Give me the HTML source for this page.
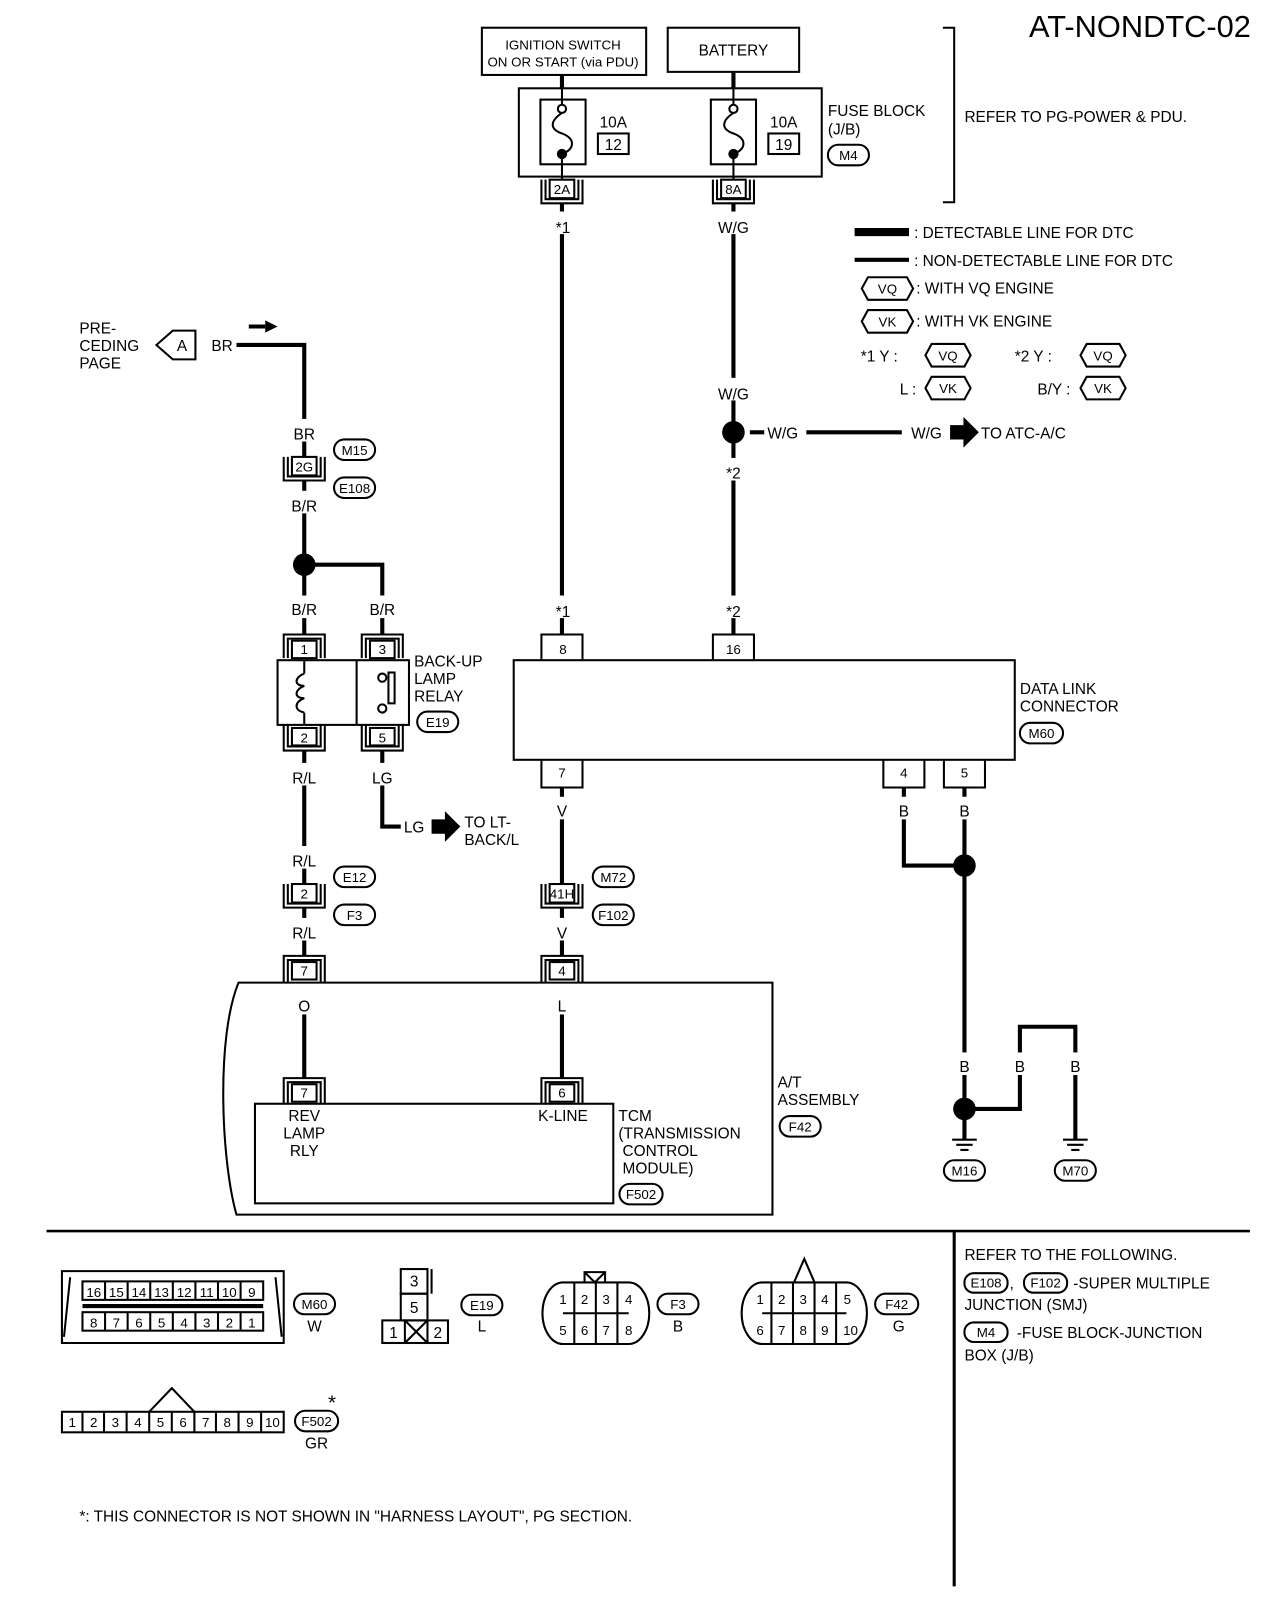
<!DOCTYPE html>
<html><head><meta charset="utf-8"><style>
html,body{margin:0;padding:0;background:#fff}
svg{display:block}
text{font-family:"Liberation Sans",sans-serif;font-size:15px;fill:#000}
.c{text-anchor:middle}
.s{font-size:13px}
</style></head><body>
<svg width="1280" height="1612" viewBox="0 0 1246 1570" xmlns="http://www.w3.org/2000/svg">
<g fill="none" stroke="#000" stroke-width="2">
<rect x="469" y="27" width="160" height="46"/>
<rect x="650" y="27" width="128" height="43"/>
<rect x="505" y="86" width="295" height="86"/>
<rect x="526" y="97" width="44" height="63"/>
<rect x="692" y="97" width="44" height="63"/>
<rect x="582" y="130" width="30" height="20"/>
<rect x="748" y="130" width="30" height="20"/>
<path d="M547 110 C535 118,535 126,547 130 C560 135,560 145,547 150"/>
<path d="M714 110 C702 118,702 126,714 130 C727 135,727 145,714 150"/>
<path d="M547 150V175M714 150V175M547 86V102M714 86V102"/>
<circle cx="547" cy="106" r="4"/><circle cx="714" cy="106" r="4"/>
<path d="M918 27H929V197H918"/>
<rect x="535" y="175" width="24" height="18"/><path d="M527 175V198H567V175M531 175V194H563V175"/>
<rect x="702" y="175" width="24" height="18"/><path d="M694 175V198H734V175M698 175V194H730V175"/>
<rect x="806" y="141" width="40" height="20" rx="10"/>
<path d="M845 270H883L889 281L883 292H845L839 281Z"/>
<path d="M845 302H883L889 313L883 324H845L839 313Z"/>
<path d="M907 335H939L945 346L939 357H907L901 346Z"/>
<path d="M907 367H939L945 378L939 389H907L901 378Z"/>
<path d="M1058 335H1090L1096 346L1090 357H1058L1052 346Z"/>
<path d="M1058 367H1090L1096 378L1090 389H1058L1052 378Z"/>
<path d="M190 322V350H168L152 336L168 322Z"/>
<rect x="325" y="428" width="40" height="20" rx="10"/>
<rect x="325" y="465" width="40" height="20" rx="10"/>
<rect x="406" y="693" width="40" height="20" rx="10"/>
<rect x="325" y="844" width="40" height="20" rx="10"/>
<rect x="325" y="881" width="40" height="20" rx="10"/>
<rect x="577" y="844" width="40" height="20" rx="10"/>
<rect x="577" y="881" width="40" height="20" rx="10"/>
<rect x="993" y="704" width="42" height="20" rx="10"/>
<rect x="759" y="1087" width="40" height="20" rx="10"/>
<rect x="603" y="1153" width="42" height="20" rx="10"/>
<rect x="919" y="1130" width="40" height="20" rx="10"/>
<rect x="1027" y="1130" width="40" height="20" rx="10"/>
<rect x="284" y="445" width="24" height="18"/><path d="M276 445V468H316V445M280 445V464H312V445"/>
<rect x="284" y="624" width="24" height="17"/><path d="M276 641V618H316V641M280 641V622H312V641"/>
<rect x="360" y="624" width="24" height="17"/><path d="M352 641V618H392V641M356 641V622H388V641"/>
<rect x="270" y="643" width="128" height="63"/>
<path d="M347 643V706"/>
<path d="M296 656C286 660,286 668,296 668C286 672,286 680,296 680C286 684,286 692,296 694"/>
<path d="M296 643V656M296 694V706"/>
<circle cx="372" cy="660" r="4"/><circle cx="372" cy="690" r="4"/>
<rect x="378" y="655" width="6" height="30"/>
<rect x="284" y="709" width="24" height="17"/><path d="M276 706V731H316V706M280 706V727H312V706"/>
<rect x="360" y="709" width="24" height="17"/><path d="M352 706V731H392V706M356 706V727H388V706"/>
<rect x="284" y="861" width="24" height="18"/><path d="M276 861V884H316V861M280 861V880H312V861"/>
<rect x="535" y="861" width="24" height="18"/><path d="M527 861V884H567V861M531 861V880H563V861"/>
<rect x="284" y="937" width="24" height="17"/><path d="M276 957V931H316V957M280 957V935H312V957"/>
<rect x="535" y="937" width="24" height="17"/><path d="M527 957V931H567V957M531 957V935H563V957"/>
<path d="M232 957H752V1183H230C215 1130,210 1010,232 957Z"/>
<rect x="284" y="1056" width="24" height="17"/><path d="M276 1075V1050H316V1075M280 1075V1054H312V1075"/>
<rect x="535" y="1056" width="24" height="17"/><path d="M527 1075V1050H567V1075M531 1075V1054H563V1075"/>
<rect x="248" y="1075" width="349" height="97"/>
<rect x="500" y="643" width="488" height="97"/>
<path d="M527 643V618H567V643M694 643V618H734V643"/>
<path d="M527 740V767H567V740M860 740V767H900V740M919 740V767H959V740"/>
<path d="M927 1110H951M931 1115H947M935 1120H943M1035 1110H1059M1039 1115H1055M1043 1120H1051"/>
<path d="M60 1238H276L276 1308H60Z"/>
<path d="M68 1244L62 1302M268 1244L274 1302"/>
<rect x="80" y="1248" width="176" height="18"/><rect x="80" y="1278" width="176" height="18"/>
<path d="M80 1271H256M80 1273H256"/>
<path d="M102 1248V1266M124 1248V1266M146 1248V1266M168 1248V1266M190 1248V1266M212 1248V1266M234 1248V1266M102 1278V1296M124 1278V1296M146 1278V1296M168 1278V1296M190 1278V1296M212 1278V1296M234 1278V1296"/>
<rect x="286" y="1260" width="40" height="20" rx="10"/>
<rect x="390" y="1236" width="26" height="24"/><path d="M420 1236V1260"/>
<rect x="390" y="1260" width="26" height="26"/>
<rect x="372" y="1286" width="64" height="22"/><path d="M394 1286V1308M416 1286V1308M394 1286L416 1308M416 1286L394 1308"/>
<rect x="449" y="1261" width="40" height="20" rx="10"/>
<path d="M548 1249H612A20 30 0 0 1 612 1309H548A20 30 0 0 1 548 1249Z"/>
<path d="M548 1279H612M559 1249V1309M580 1249V1309M601 1249V1309M569 1249V1239H589V1249M569 1239L579 1249L589 1239"/>
<rect x="640" y="1260" width="40" height="20" rx="10"/>
<path d="M742 1249H824A20 30 0 0 1 824 1309H742A20 30 0 0 1 742 1249Z"/>
<path d="M742 1279H824M751 1249V1309M772 1249V1309M793 1249V1309M814 1249V1309M773 1249L783 1226L793 1249"/>
<rect x="852" y="1260" width="42" height="20" rx="10"/>
<rect x="60" y="1375" width="216" height="20"/>
<path d="M80 1375V1395M101 1375V1395M123 1375V1395M145 1375V1395M167 1375V1395M189 1375V1395M210 1375V1395M232 1375V1395M254 1375V1395M145 1375L167 1352L189 1375"/>
<rect x="287" y="1374" width="42" height="20" rx="10"/>
<rect x="939" y="1240" width="42" height="19" rx="9"/>
<rect x="997" y="1240" width="42" height="19" rx="9"/>
<rect x="939" y="1288" width="42" height="19" rx="9"/>
</g>
<g fill="none" stroke="#000" stroke-width="4">
<path d="M547 73V86M714 70V86"/>
<path d="M547 198V618M714 198V618"/>
<path d="M230 336H296V445M296 468V618M296 550H372V618"/>
<path d="M296 731V861M296 884V931M296 975V1050"/>
<path d="M372 731V805H392"/>
<path d="M547 767V861M547 884V931M547 975V1050"/>
<path d="M730 421H760M785 421H878"/>
<path d="M880 767V843H939M939 767V1110M939 1080H993V1000H1047V1110"/>
<path d="M832 226H885" stroke-width="8"/>
<path d="M832 253H885"/>
<path d="M45 1199H1217" stroke-width="2.5"/>
<path d="M929 1199V1545" stroke-width="3"/>
<path d="M242 318H258"/>
</g>
<!-- label gaps on wires -->
<g fill="#fff">
<rect x="535" y="206" width="24" height="22"/><rect x="699" y="206" width="30" height="22"/>
<rect x="699" y="368" width="30" height="22"/><rect x="702" y="446" width="24" height="22"/>
<rect x="744" y="408" width="34" height="22"/><rect x="884" y="408" width="36" height="22"/>
<rect x="283" y="408" width="26" height="22"/><rect x="281" y="478" width="30" height="22"/>
<rect x="281" y="580" width="30" height="22"/><rect x="357" y="580" width="30" height="22"/>
<rect x="535" y="580" width="24" height="22"/><rect x="702" y="580" width="24" height="22"/>
<rect x="281" y="743" width="30" height="22"/><rect x="360" y="743" width="24" height="22"/>
<rect x="390" y="792" width="26" height="22"/>
<rect x="539" y="776" width="16" height="22"/><rect x="872" y="776" width="16" height="22"/><rect x="931" y="776" width="16" height="22"/>
<rect x="281" y="824" width="30" height="22"/><rect x="281" y="894" width="30" height="22"/><rect x="539" y="894" width="16" height="22"/>
<rect x="287" y="966" width="18" height="22"/><rect x="539" y="966" width="16" height="22"/>
<rect x="931" y="1025" width="16" height="22"/><rect x="985" y="1025" width="16" height="22"/><rect x="1039" y="1025" width="16" height="22"/>
<rect x="202" y="326" width="28" height="20"/>
</g>
<g fill="#000">
<circle cx="547" cy="150" r="5"/><circle cx="714" cy="150" r="5"/>
<circle cx="714" cy="421" r="11"/>
<circle cx="296" cy="550" r="11"/>
<circle cx="939" cy="843" r="11"/>
<circle cx="939" cy="1080" r="11"/>
<path d="M258 312L270 318L258 324Z"/>
<path d="M925 414H938V406L953 421L938 436V428H925Z"/>
<path d="M420 798H433V790L448 805L433 820V812H420Z"/>
</g>
<g>
<text x="1218" y="36" text-anchor="end" style="font-size:30px">AT-NONDTC-02</text>
<text x="548" y="48" class="c s">IGNITION SWITCH</text>
<text x="548" y="65" class="c s">ON OR START (via PDU)</text>
<text x="714" y="54" class="c">BATTERY</text>
<text x="597" y="124" class="c">10A</text><text x="597" y="146" class="c">12</text>
<text x="763" y="124" class="c">10A</text><text x="763" y="146" class="c">19</text>
<text x="547" y="189" class="c s">2A</text><text x="714" y="189" class="c s">8A</text>
<text x="806" y="113">FUSE BLOCK</text><text x="806" y="131">(J/B)</text>
<text x="826" y="156" class="c s">M4</text>
<text x="939" y="119">REFER TO PG-POWER &amp; PDU.</text>
<text x="548" y="227" class="c">*1</text><text x="714" y="227" class="c">W/G</text>
<text x="890" y="232">: DETECTABLE LINE FOR DTC</text>
<text x="890" y="259">: NON-DETECTABLE LINE FOR DTC</text>
<text x="864" y="286" class="c s">VQ</text><text x="892" y="286">: WITH VQ ENGINE</text>
<text x="864" y="318" class="c s">VK</text><text x="892" y="318">: WITH VK ENGINE</text>
<text x="838" y="352">*1  Y :</text><text x="923" y="351" class="c s">VQ</text>
<text x="876" y="384">L :</text><text x="923" y="383" class="c s">VK</text>
<text x="988" y="352">*2  Y :</text><text x="1074" y="351" class="c s">VQ</text>
<text x="1010" y="384">B/Y :</text><text x="1074" y="383" class="c s">VK</text>
<text x="714" y="389" class="c">W/G</text>
<text x="762" y="427" class="c">W/G</text><text x="902" y="427" class="c">W/G</text>
<text x="955" y="427">TO ATC-A/C</text>
<text x="714" y="466" class="c">*2</text>
<text x="77" y="325">PRE-</text><text x="77" y="342">CEDING</text><text x="77" y="359">PAGE</text>
<text x="177" y="342" class="c">A</text>
<text x="216" y="342" class="c">BR</text>
<text x="296" y="428" class="c">BR</text>
<text x="345" y="443" class="c s">M15</text>
<text x="296" y="459" class="c s">2G</text>
<text x="345" y="480" class="c s">E108</text>
<text x="296" y="498" class="c">B/R</text>
<text x="296" y="599" class="c">B/R</text><text x="372" y="599" class="c">B/R</text>
<text x="548" y="601" class="c">*1</text><text x="714" y="601" class="c">*2</text>
<text x="296" y="637" class="c s">1</text><text x="372" y="637" class="c s">3</text>
<text x="548" y="637" class="c s">8</text><text x="714" y="637" class="c s">16</text>
<text x="296" y="723" class="c s">2</text><text x="372" y="723" class="c s">5</text>
<text x="403" y="649">BACK-UP</text><text x="403" y="666">LAMP</text><text x="403" y="683">RELAY</text>
<text x="426" y="708" class="c s">E19</text>
<text x="993" y="676">DATA LINK</text><text x="993" y="693">CONNECTOR</text>
<text x="1014" y="719" class="c s">M60</text>
<text x="547" y="757" class="c s">7</text><text x="880" y="757" class="c s">4</text><text x="939" y="757" class="c s">5</text>
<text x="296" y="763" class="c">R/L</text><text x="372" y="763" class="c">LG</text>
<text x="547" y="795" class="c">V</text><text x="880" y="795" class="c">B</text><text x="939" y="795" class="c">B</text>
<text x="403" y="811" class="c">LG</text>
<text x="452" y="806">TO LT-</text><text x="452" y="823">BACK/L</text>
<text x="296" y="844" class="c">R/L</text>
<text x="345" y="859" class="c s">E12</text><text x="345" y="896" class="c s">F3</text>
<text x="296" y="875" class="c s">2</text>
<text x="547" y="875" class="c s">41H</text>
<text x="597" y="859" class="c s">M72</text><text x="597" y="896" class="c s">F102</text>
<text x="296" y="914" class="c">R/L</text><text x="547" y="914" class="c">V</text>
<text x="296" y="950" class="c s">7</text><text x="547" y="950" class="c s">4</text>
<text x="296" y="985" class="c">O</text><text x="547" y="985" class="c">L</text>
<text x="296" y="1069" class="c s">7</text><text x="547" y="1069" class="c s">6</text>
<text x="296" y="1092" class="c">REV</text><text x="296" y="1109" class="c">LAMP</text><text x="296" y="1126" class="c">RLY</text>
<text x="548" y="1092" class="c">K-LINE</text>
<text x="757" y="1059">A/T</text><text x="757" y="1076">ASSEMBLY</text>
<text x="779" y="1102" class="c s">F42</text>
<text x="602" y="1092">TCM</text><text x="602" y="1109">(TRANSMISSION</text><text x="606" y="1126">CONTROL</text><text x="606" y="1143">MODULE)</text>
<text x="624" y="1168" class="c s">F502</text>
<text x="939" y="1044" class="c">B</text><text x="993" y="1044" class="c">B</text><text x="1047" y="1044" class="c">B</text>
<text x="939" y="1145" class="c s">M16</text><text x="1047" y="1145" class="c s">M70</text>
<text x="939" y="1227">REFER TO THE FOLLOWING.</text>
<text x="960" y="1254" class="c s">E108</text><text x="983" y="1255">,</text><text x="1018" y="1254" class="c s">F102</text>
<text x="1045" y="1255">-SUPER MULTIPLE</text>
<text x="939" y="1276">JUNCTION (SMJ)</text>
<text x="960" y="1302" class="c s">M4</text><text x="990" y="1303">-FUSE BLOCK-JUNCTION</text>
<text x="939" y="1325">BOX (J/B)</text>
<text x="91" y="1263" class="c s">16</text><text x="113" y="1263" class="c s">15</text><text x="135" y="1263" class="c s">14</text><text x="157" y="1263" class="c s">13</text><text x="179" y="1263" class="c s">12</text><text x="201" y="1263" class="c s">11</text><text x="223" y="1263" class="c s">10</text><text x="245" y="1263" class="c s">9</text>
<text x="91" y="1293" class="c s">8</text><text x="113" y="1293" class="c s">7</text><text x="135" y="1293" class="c s">6</text><text x="157" y="1293" class="c s">5</text><text x="179" y="1293" class="c s">4</text><text x="201" y="1293" class="c s">3</text><text x="223" y="1293" class="c s">2</text><text x="245" y="1293" class="c s">1</text>
<text x="306" y="1275" class="c s">M60</text><text x="306" y="1297" class="c">W</text>
<text x="403" y="1253" class="c">3</text><text x="403" y="1279" class="c">5</text>
<text x="383" y="1303" class="c">1</text><text x="426" y="1303" class="c">2</text>
<text x="469" y="1276" class="c s">E19</text><text x="469" y="1297" class="c">L</text>
<text x="548" y="1270" class="c s">1</text><text x="569" y="1270" class="c s">2</text><text x="590" y="1270" class="c s">3</text><text x="612" y="1270" class="c s">4</text>
<text x="548" y="1300" class="c s">5</text><text x="569" y="1300" class="c s">6</text><text x="590" y="1300" class="c s">7</text><text x="612" y="1300" class="c s">8</text>
<text x="660" y="1275" class="c s">F3</text><text x="660" y="1297" class="c">B</text>
<text x="740" y="1270" class="c s">1</text><text x="761" y="1270" class="c s">2</text><text x="782" y="1270" class="c s">3</text><text x="803" y="1270" class="c s">4</text><text x="825" y="1270" class="c s">5</text>
<text x="740" y="1300" class="c s">6</text><text x="761" y="1300" class="c s">7</text><text x="782" y="1300" class="c s">8</text><text x="803" y="1300" class="c s">9</text><text x="828" y="1300" class="c s">10</text>
<text x="873" y="1275" class="c s">F42</text><text x="875" y="1297" class="c">G</text>
<text x="70" y="1390" class="c s">1</text><text x="91" y="1390" class="c s">2</text><text x="112" y="1390" class="c s">3</text><text x="134" y="1390" class="c s">4</text><text x="156" y="1390" class="c s">5</text><text x="178" y="1390" class="c s">6</text><text x="200" y="1390" class="c s">7</text><text x="221" y="1390" class="c s">8</text><text x="243" y="1390" class="c s">9</text><text x="265" y="1390" class="c s">10</text>
<text x="308" y="1389" class="c s">F502</text><text x="323" y="1373" class="c" style="font-size:20px">*</text><text x="308" y="1411" class="c">GR</text>
<text x="77" y="1482">*: THIS CONNECTOR IS NOT SHOWN IN "HARNESS LAYOUT", PG SECTION.</text>
</g>
</svg>
</body></html>
